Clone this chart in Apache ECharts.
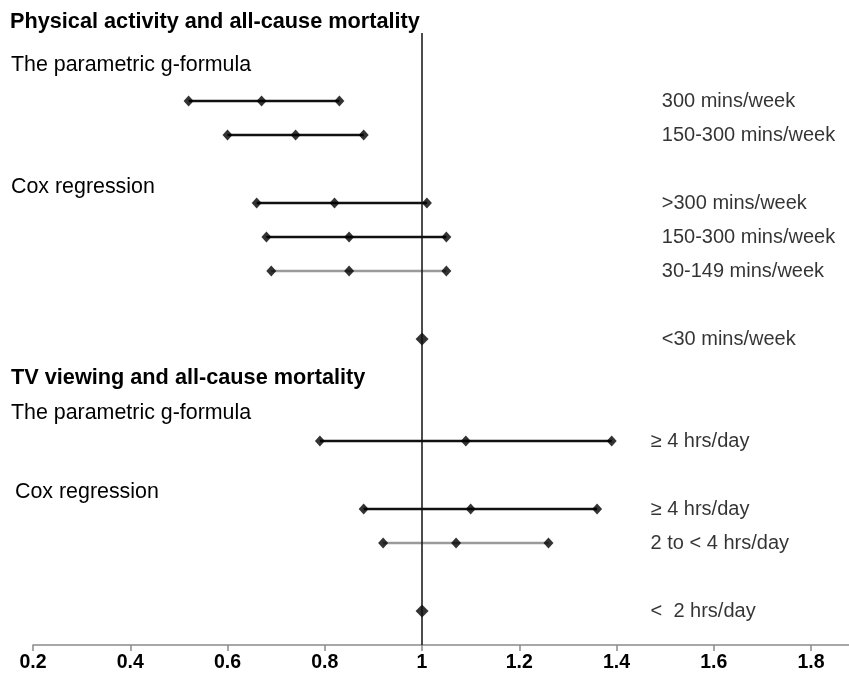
<!DOCTYPE html>
<html>
<head>
<meta charset="utf-8">
<script src="https://cdn.jsdelivr.net/npm/echarts@6/dist/echarts.min.js"></script>
<style>
  html, body { margin: 0; padding: 0; background: #fff; }
  #main { width: 849px; height: 675px; }
</style>
</head>
<body>
<div id="main"></div>
<script>
// rows of the forest plot, top to bottom
var rowLabels = ['300 mins/week', '150-300 mins/week', '>300 mins/week', '150-300 mins/week',
  '30-149 mins/week', '<30 mins/week', '\u2265 4 hrs/day', '\u2265 4 hrs/day',
  '2 to < 4 hrs/day', '<  2 hrs/day'];
var estimates = [0.67, 0.74, 0.82, 0.85, 0.85, 1, 1.09, 1.10, 1.07, 1];
var lowerCI = [0.52, 0.60, 0.66, 0.68, 0.69, null, 0.79, 0.88, 0.92, null];
var upperCI = [0.83, 0.88, 1.01, 1.05, 1.05, null, 1.39, 1.36, 1.26, null];
var rowGroup = ['pa', 'pa', 'pa', 'pa', 'pa', 'pa', 'tv', 'tv', 'tv', 'tv'];
// vertical slot of each row (blank slots hold the headings)
var rowSlots = [2, 3, 5, 6, 7, 9, 12, 14, 15, 17];
var greyRows = [4, 8];
var xTicks = [0.2, 0.4, 0.6, 0.8, 1, 1.2, 1.4, 1.6, 1.8];

var FONT = '"Liberation Sans", Arial, sans-serif';
var myChart = echarts.init(document.getElementById('main'));

var ciData = [], endData = [], estData = [], labelData = [];
for (var i = 0; i < rowLabels.length; i++) {
  var y = rowSlots[i];
  if (lowerCI[i] != null) {
    ciData.push([lowerCI[i], upperCI[i], y, greyRows.indexOf(i) >= 0 ? 1 : 0]);
    endData.push([lowerCI[i], y], [upperCI[i], y]);
  }
  estData.push([estimates[i], y, lowerCI[i] == null ? 1 : 0]);
  labelData.push([rowGroup[i] === 'pa' ? 1.493 : 1.47, y, rowLabels[i]]);
}

function heading(text, left, top, bold) {
  return {
    type: 'text', left: left, top: top,
    style: { text: text, font: (bold ? 'bold 21.7px ' : '21.4px ') + FONT, fill: '#000' }
  };
}

myChart.setOption({
  animation: false,
  grid: { left: 33, right: 0, top: 33, bottom: 30 },
  xAxis: {
    type: 'value',
    min: xTicks[0],
    max: 1.878,
    interval: 0.2,
    splitLine: { show: false },
    axisLine: { onZero: false, lineStyle: { color: '#8a8a8a', width: 1.5 } },
    axisTick: { length: 6, lineStyle: { color: '#8a8a8a', width: 1.5 } },
    axisLabel: {
      showMaxLabel: false,
      margin: 8,
      color: '#000',
      fontFamily: FONT,
      fontWeight: 'bold',
      fontSize: 19.5,
      formatter: function (v) {
        var r = Math.round(v * 10) / 10;
        return xTicks.indexOf(r) >= 0 ? String(r) : '';
      }
    }
  },
  yAxis: { type: 'value', inverse: true, min: 0, max: 18, show: false },
  graphic: [
    heading('Physical activity and all-cause mortality', 10, 11, true),
    heading('The parametric g-formula', 11, 55, false),
    heading('Cox regression', 11, 177, false),
    heading('TV viewing and all-cause mortality', 11, 367, true),
    heading('The parametric g-formula', 11, 403, false),
    heading('Cox regression', 15, 482, false)
  ],
  series: [
    {
      type: 'custom',
      name: 'ci',
      z: 2,
      data: ciData,
      renderItem: function (params, api) {
        var a = api.coord([api.value(0), api.value(2)]);
        var b = api.coord([api.value(1), api.value(2)]);
        return {
          type: 'line',
          shape: { x1: a[0], y1: a[1], x2: b[0], y2: b[1] },
          style: { stroke: api.value(3) ? '#9a9a9a' : '#111', lineWidth: 2.5 }
        };
      },
      markLine: {
        silent: true,
        symbol: 'none',
        label: { show: false },
        lineStyle: { color: '#111', width: 1.5, type: 'solid' },
        data: [{ xAxis: 1 }]
      }
    },
    {
      type: 'scatter',
      z: 3,
      symbol: 'diamond',
      symbolSize: [10, 11],
      itemStyle: { color: '#000' },
      data: endData
    },
    {
      type: 'scatter',
      z: 3,
      symbol: 'diamond',
      symbolSize: function (v) { return v[2] ? [13, 13] : [10, 11]; },
      itemStyle: { color: '#000' },
      data: estData
    },
    {
      type: 'scatter',
      z: 4,
      symbolSize: 0,
      silent: true,
      data: labelData,
      label: {
        show: true,
        position: 'right',
        distance: 0,
        color: '#000',
        fontFamily: FONT,
        fontSize: 20,
        formatter: function (p) { return p.value[2]; }
      }
    }
  ]
});
</script>
</body>
</html>
